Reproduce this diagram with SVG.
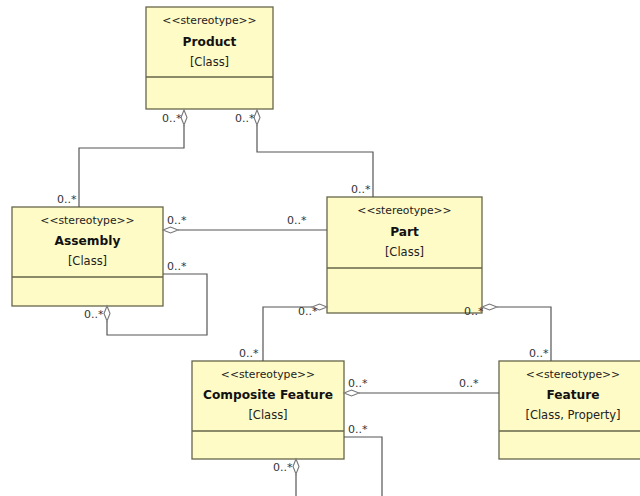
<svg xmlns="http://www.w3.org/2000/svg" width="640" height="496" viewBox="0 0 640 496">
<style>
.box{fill:#FFFBC6;stroke:#66664a;stroke-width:1.3}
.div{stroke:#66664a;stroke-width:1.3}
.st{font-family:"DejaVu Sans",Verdana,sans-serif;font-size:10.8px;fill:#222;text-anchor:middle}
.nm{font-family:"DejaVu Sans",Verdana,sans-serif;font-size:12.2px;font-weight:bold;fill:#111;text-anchor:middle}
.cl{font-family:"DejaVu Sans",Verdana,sans-serif;font-size:11.5px;fill:#222;text-anchor:middle}
.ln{fill:none;stroke:#555;stroke-width:1.2}
.dm{fill:#fff;stroke:#777;stroke-width:1.1}
.lb{font-family:"DejaVu Sans",Verdana,sans-serif;font-size:11px;fill:#333}
</style>
<rect width="640" height="496" fill="#fff"/>
<g id="product">
<rect class="box" x="146" y="7" width="127" height="102"/>
<line class="div" x1="146" y1="77" x2="273" y2="77"/>
<text class="st" x="209.5" y="24">&lt;&lt;stereotype&gt;&gt;</text>
<text class="nm" x="209.5" y="46">Product</text>
<text class="cl" x="209.5" y="66">[Class]</text>
</g>
<g id="assembly">
<rect class="box" x="12" y="207" width="151" height="99"/>
<line class="div" x1="12" y1="277" x2="163" y2="277"/>
<text class="st" x="87.5" y="224">&lt;&lt;stereotype&gt;&gt;</text>
<text class="nm" x="87.5" y="245">Assembly</text>
<text class="cl" x="87.5" y="265">[Class]</text>
</g>
<g id="part">
<rect class="box" x="327" y="197" width="155" height="116"/>
<line class="div" x1="327" y1="268" x2="482" y2="268"/>
<text class="st" x="404.5" y="214">&lt;&lt;stereotype&gt;&gt;</text>
<text class="nm" x="404.5" y="236">Part</text>
<text class="cl" x="404.5" y="256">[Class]</text>
</g>
<g id="composite-feature">
<rect class="box" x="192" y="361" width="152" height="98"/>
<line class="div" x1="192" y1="431" x2="344" y2="431"/>
<text class="st" x="268" y="378">&lt;&lt;stereotype&gt;&gt;</text>
<text class="nm" x="268" y="399">Composite Feature</text>
<text class="cl" x="268" y="419">[Class]</text>
</g>
<g id="feature">
<rect class="box" x="499" y="361" width="150" height="98"/>
<line class="div" x1="499" y1="431" x2="649" y2="431"/>
<text class="st" x="573" y="378">&lt;&lt;stereotype&gt;&gt;</text>
<text class="nm" x="573" y="399">Feature</text>
<text class="cl" x="573" y="419">[Class, Property]</text>
</g>
<g id="connectors">
<path class="ln" d="M184,125 V148 H79 V207"/>
<path class="dm" d="M184,110 L187,117.5 L184,125 L181,117.5 Z"/>
<text class="lb" x="162" y="122">0..*</text>
<text class="lb" x="57" y="203">0..*</text>
<path class="ln" d="M257,125 V152 H373 V197"/>
<path class="dm" d="M257,110 L260,117.5 L257,125 L254,117.5 Z"/>
<text class="lb" x="235" y="122">0..*</text>
<text class="lb" x="351" y="193">0..*</text>
<path class="ln" d="M178,230 H327"/>
<path class="dm" d="M163,230 L170.5,227 L178,230 L170.5,233 Z"/>
<text class="lb" x="167" y="224">0..*</text>
<text class="lb" x="287" y="224">0..*</text>
<path class="ln" d="M163,274 H207 V335 H107 V321"/>
<path class="dm" d="M107,306 L110,313.5 L107,321 L104,313.5 Z"/>
<text class="lb" x="167" y="270">0..*</text>
<text class="lb" x="84" y="318">0..*</text>
<path class="ln" d="M312,307 H263 V361"/>
<path class="dm" d="M327,307 L319.5,304 L312,307 L319.5,310 Z"/>
<text class="lb" x="298" y="315">0..*</text>
<text class="lb" x="239" y="357">0..*</text>
<path class="ln" d="M497,307 H551 V361"/>
<path class="dm" d="M482,307 L489.5,304 L497,307 L489.5,310 Z"/>
<text class="lb" x="464" y="315">0..*</text>
<text class="lb" x="529" y="357">0..*</text>
<path class="ln" d="M359,393 H499"/>
<path class="dm" d="M344,393 L351.5,390 L359,393 L351.5,396 Z"/>
<text class="lb" x="348" y="387">0..*</text>
<text class="lb" x="459" y="387">0..*</text>
<path class="ln" d="M344,437 H382 V496"/>
<path class="ln" d="M296,474 V496"/>
<path class="dm" d="M296,459 L299,466.5 L296,474 L293,466.5 Z"/>
<text class="lb" x="348" y="433">0..*</text>
<text class="lb" x="273" y="471">0..*</text>
</g>
</svg>
